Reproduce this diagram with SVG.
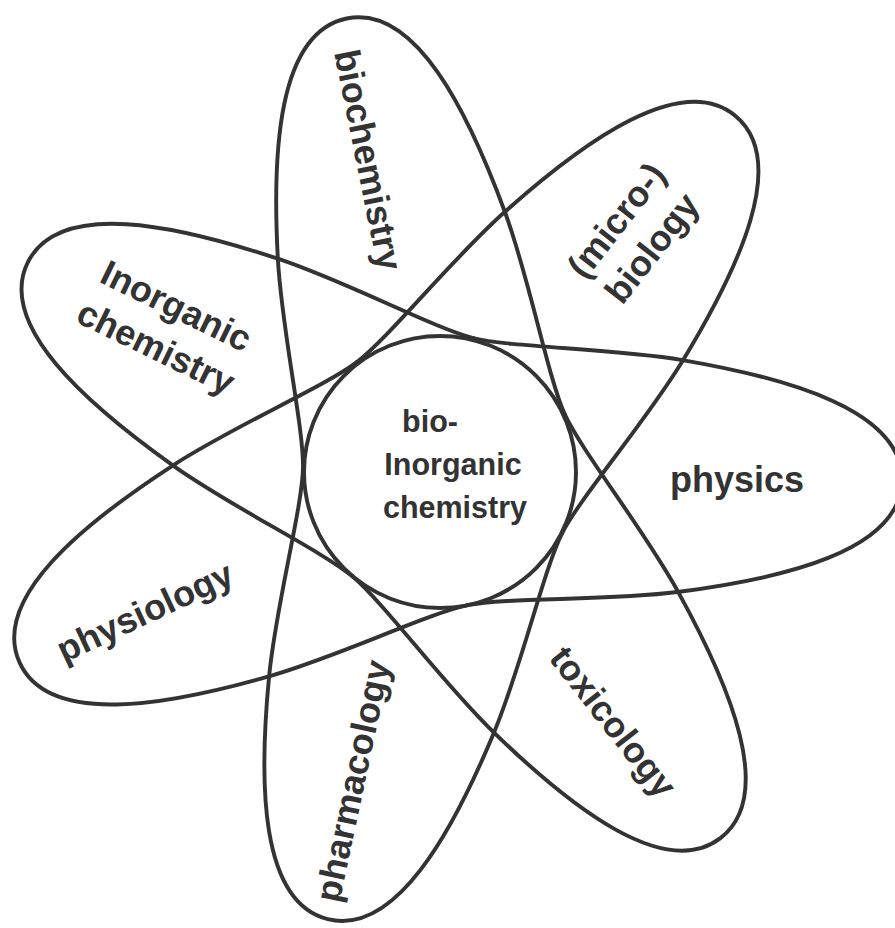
<svg xmlns="http://www.w3.org/2000/svg" xmlns:xlink="http://www.w3.org/1999/xlink" width="895" height="928" viewBox="0 0 895 928">
  <style>
    .orbit { fill: none; stroke: #333; stroke-width: 3.9; stroke-linecap: round; stroke-linejoin: round; }
    .lbl { font-family: "Liberation Sans", Arial, Helvetica, sans-serif; font-weight: bold; font-size: 36px; fill: #333; text-anchor: middle; }
    .ctr { font-family: "Liberation Sans", Arial, Helvetica, sans-serif; font-weight: bold; font-size: 30.5px; fill: #333; text-anchor: middle; }
  </style>
  <defs>
    <path id="petal" class="orbit" d="M30.5,-133.6 C69.5,-124.7 170,-126.5 240,-116 C347,-100 462,-70 462,0 C462,70 347,100 240,116 C170,126.5 69.5,124.7 30.5,133.6"/>
  </defs>
  <rect width="895" height="928" fill="#fff"/>
  <g id="connectors">
    <use xlink:href="#petal" href="#petal" transform="translate(440,471) rotate(1.2)"/>
    <use xlink:href="#petal" href="#petal" transform="translate(440,471) rotate(52.63)"/>
    <use xlink:href="#petal" href="#petal" transform="translate(440,471) rotate(104.06)"/>
    <use xlink:href="#petal" href="#petal" transform="translate(440,471) rotate(155.49)"/>
    <use xlink:href="#petal" href="#petal" transform="translate(440,471) rotate(206.91)"/>
    <use xlink:href="#petal" href="#petal" transform="translate(440,471) rotate(258.34)"/>
    <use xlink:href="#petal" href="#petal" transform="translate(440,471) rotate(309.77)"/>
  </g>
  <g id="bioinorganic">
    <circle class="orbit" cx="440" cy="472" r="136"/>
    <text class="ctr"><tspan x="430" y="432">bio-</tspan><tspan x="453" y="475">Inorganic</tspan><tspan x="455" y="518">chemistry</tspan></text>
  </g>
  <g id="biochemistry">
    <text class="lbl" transform="translate(368,160) rotate(78.6)" x="0" y="12">biochemistry</text>
  </g>
  <g id="microbiology">
    <text class="lbl" transform="translate(634,234) rotate(-52)"><tspan x="0" y="-10">(micro-)</tspan><tspan x="0" y="35">biology</tspan></text>
  </g>
  <g id="physics">
    <text class="lbl" x="737" y="492">physics</text>
  </g>
  <g id="toxicology">
    <text class="lbl" transform="translate(613,722) rotate(52)" x="0" y="12">toxicology</text>
  </g>
  <g id="pharmacology">
    <text class="lbl" transform="translate(353,781) rotate(-78)" x="0" y="12">pharmacology</text>
  </g>
  <g id="physiology">
    <text class="lbl" transform="translate(145,612) rotate(-25)" x="0" y="12">physiology</text>
  </g>
  <g id="inorganic">
    <text class="lbl" transform="translate(166,327) rotate(26)"><tspan x="0" y="-11">Inorganic</tspan><tspan x="0" y="35">chemistry</tspan></text>
  </g>
</svg>
